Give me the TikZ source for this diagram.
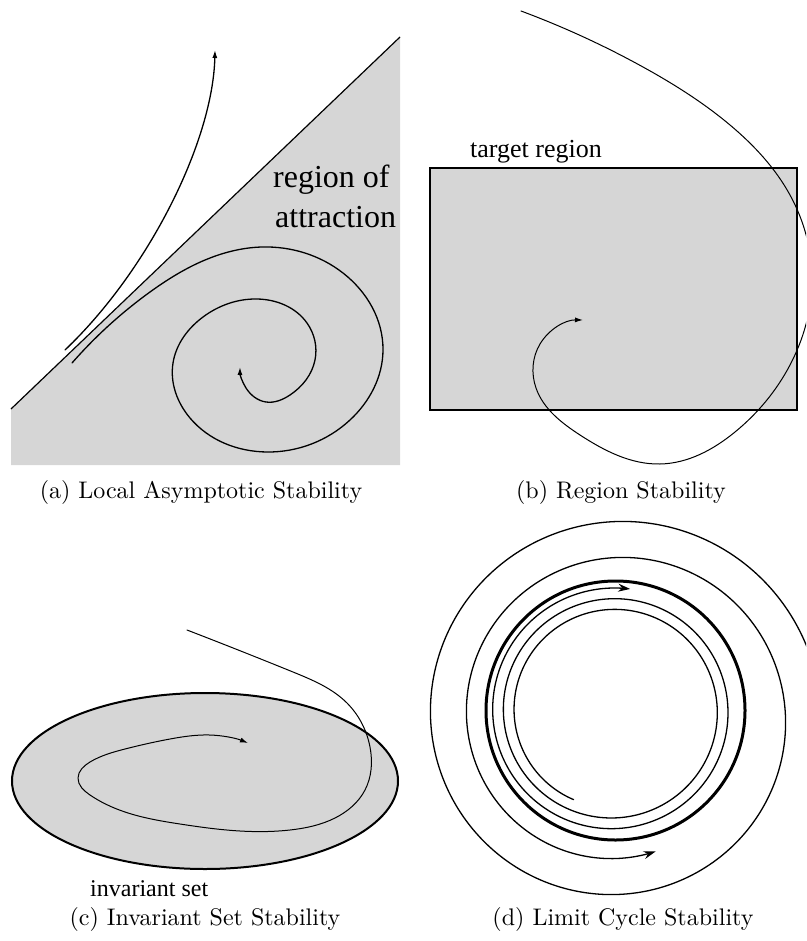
\documentclass[tikz,border=0pt]{standalone}
\usepackage{fontspec}
\usetikzlibrary{arrows.meta,hobby}
\newfontfamily\timesfont{Liberation Serif}
\newfontfamily\capfont[Extension=.otf]{lmroman10-regular}
\definecolor{regiongray}{RGB}{214,214,214}
\begin{document}
\begin{tikzpicture}[x=1pt,y=-1pt,
  region/.style={fill=regiongray},
  traj/.style={line width=1.3pt, line join=round, line cap=round},
  thintraj/.style={line width=1pt, line join=round, line cap=round},
  smalltip/.style={-{Latex[length=8pt,width=5pt]}},
  bigtip/.style={-{Stealth[length=12pt,width=8pt,inset=4pt]}},
  caption/.style={font=\capfont\fontsize{24}{28}\selectfont, anchor=base, inner sep=0pt},
  label/.style={inner sep=0pt, anchor=base west}]
\clip (0,0) rectangle (806,941);

% ---------- (a) ----------
\fill[region] (400,37) -- (11,409) -- (11,465) -- (400,465) -- cycle;
\draw[line width=1.2pt] (400,37) -- (11,409);
\node[label, font=\timesfont\fontsize{32}{38}\selectfont] (roa1) at (273,188) {region of};
\node[label, font=\timesfont\fontsize{32}{38}\selectfont] (roa2) at (275,227) {attraction};
\draw[traj, smalltip] (65,350) .. controls (150,269) and (213,140) .. (215,50);
\draw[traj, smalltip, use Hobby shortcut]
  (72,363) .. (150,292) .. (210,258) .. (262,247) .. (343,273) .. (383,350)
  .. (350,420) .. (267,452) .. (190,418) .. (173,363) .. (203,317) .. (257,299)
  .. (307,323) .. (315,360) .. (290,395) .. (266,402) .. (246,388) .. (240,367);
\node[caption] (capa) at (201,498) {(a) Local Asymptotic Stability};

% ---------- (b) ----------
\filldraw[region, draw=black, line width=2.5pt] (430,168) rectangle (797,410);
\node[label, font=\timesfont\fontsize{26}{31}\selectfont] (target) at (470,158) {target region};
\draw[thintraj, smalltip, use Hobby shortcut]
  (521,11) .. (643,67) .. (730,125) .. (790,195) .. (812,280) .. (790,365)
  .. (735,432) .. (660,464) .. (580,435) .. (536,388) .. (540,344) .. (583,320);
\node[caption] (capb) at (621,498) {(b) Region Stability};

% ---------- (c) ----------
\filldraw[region, draw=black, line width=2pt] (205,781) ellipse [x radius=193pt, y radius=88pt];
\draw[thintraj, smalltip, use Hobby shortcut]
  (187,630) .. (293,672) .. (347,703) .. (370,747) .. (365,790) .. (335,818)
  .. (290,830) .. (240,831) .. (180,824) .. (125,812) .. (90,795) .. (78,778)
  .. (90,762) .. (125,749) .. (170,739) .. (210,735) .. (248,743);
\node[label, font=\timesfont\fontsize{24}{29}\selectfont] (invset) at (90,896) {invariant set};
\node[caption] (capc) at (205,925) {(c) Invariant Set Stability};

% ---------- (d) ----------
\draw[line width=3pt] (615.5,710.5) circle [radius=129.5pt];
\begin{scope}[shift={(613,711)}]
  \draw[traj, bigtip] plot[domain=114:998, samples=250, smooth, variable=\t]
    ({\t}:{97+0.0297*(\t-114)});
\end{scope}
\begin{scope}[shift={(617,717)}]
  \draw[traj, bigtip] plot[domain=5:646, samples=220, smooth, variable=\t]
    ({-\t}:{204.5-0.1*\t});
\end{scope}
\node[caption] (capd) at (623,925) {(d) Limit Cycle Stability};
\end{tikzpicture}
\end{document}
